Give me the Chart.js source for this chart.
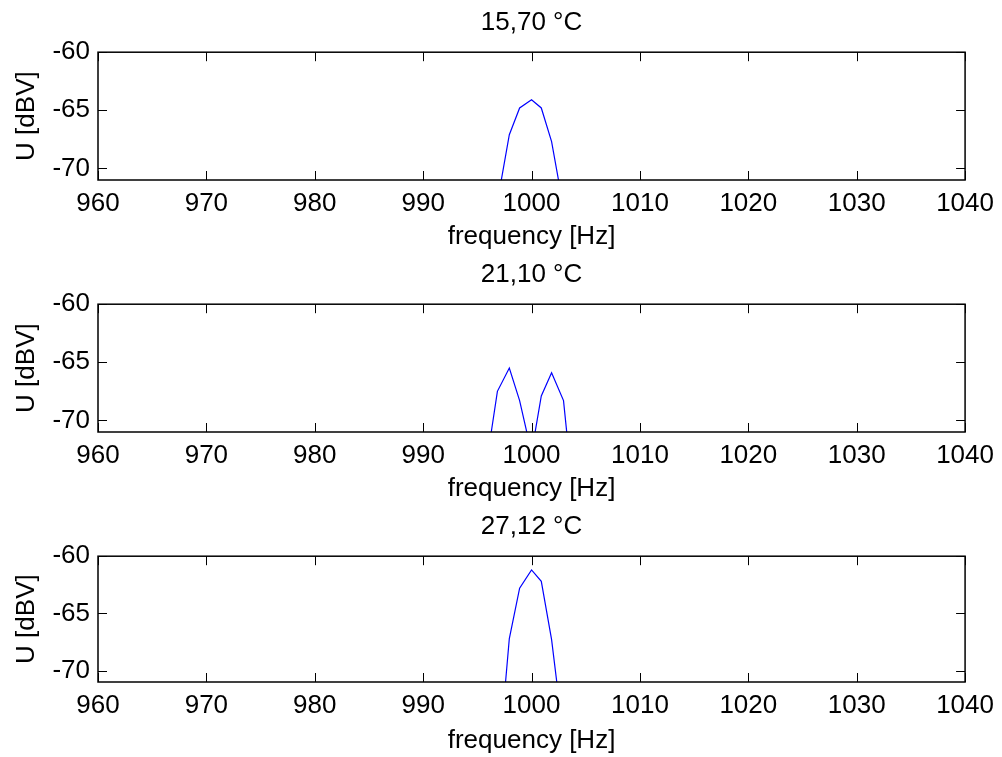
<!DOCTYPE html>
<html lang="en">
<head>
    <meta charset="UTF-8">
    <title>Spectrum around 1 kHz at three temperatures</title>
    <script src="https://cdn.jsdelivr.net/npm/chart.js"></script>
    <style>
        body { margin: 0; background: #fff; }
        .panel { position: absolute; left: 0; width: 1002px; height: 252px; }
    </style>
</head>
<body>
    <div class="panel" style="top:0px"><canvas id="plot1"></canvas></div>
    <div class="panel" style="top:252px"><canvas id="plot2"></canvas></div>
    <div class="panel" style="top:504px"><canvas id="plot3"></canvas></div>

    <script>
        // frequency bins (Hz) shared by all three spectra
        const freqHz = [995.8, 996.85, 997.95, 998.9, 1000.0, 1000.9, 1001.85, 1002.95, 1004.0];

        // level in dBV for each temperature
        const u1570 = [-78.0, -72.9, -67.1, -64.8, -64.1, -64.8, -67.7, -73.4, -79.0];
        const u2110 = [-74.0, -67.5, -65.5, -68.3, -72.8, -67.9, -65.9, -68.3, -77.9];
        const u2712 = [-86.0, -79.2, -67.2, -62.8, -61.2, -62.2, -67.3, -75.8, -84.0];

        const titles = ['15,70 °C', '21,10 °C', '27,12 °C'];
        const xTicks = [960, 970, 980, 990, 1000, 1010, 1020, 1030, 1040];
        const yTicks = [-70, -65, -60];

        const FONT = { family: '"Liberation Sans", Arial, sans-serif', size: 26 };
        const TICK = 9;

        // box round the plot area with inward ticks on all four sides
        const frameTicks = {
            id: 'frameTicks',
            afterDatasetsDraw(chart) {
                const { ctx, chartArea: a, scales: { x, y } } = chart;
                ctx.save();
                ctx.strokeStyle = '#000';
                ctx.lineWidth = 1.5;
                ctx.strokeRect(a.left, a.top, a.right - a.left, a.bottom - a.top);
                ctx.lineWidth = 1;
                ctx.beginPath();
                xTicks.forEach(v => {
                    const px = Math.round(x.getPixelForValue(v)) + 0.5;
                    ctx.moveTo(px, a.bottom); ctx.lineTo(px, a.bottom - TICK);
                    ctx.moveTo(px, a.top); ctx.lineTo(px, a.top + TICK);
                });
                yTicks.forEach(v => {
                    const py = Math.round(y.getPixelForValue(v)) + 0.5;
                    ctx.moveTo(a.left, py); ctx.lineTo(a.left + TICK, py);
                    ctx.moveTo(a.right, py); ctx.lineTo(a.right - TICK, py);
                });
                ctx.stroke();
                ctx.restore();
            }
        };

        function makePlot(id, title, values, xAxisHeight) {
            const points = freqHz.map((f, i) => ({ x: f, y: values[i] }));
            return new Chart(document.getElementById(id), {
                type: 'line',
                data: {
                    datasets: [{
                        data: points,
                        borderColor: '#0000ff',
                        borderWidth: 1.2,
                        pointRadius: 0,
                        tension: 0,
                        fill: false
                    }]
                },
                options: {
                    responsive: true,
                    maintainAspectRatio: false,
                    animation: false,
                    layout: { padding: { left: 0, right: 36, top: 0, bottom: 0 } },
                    plugins: {
                        legend: { display: false },
                        tooltip: { enabled: false },
                        title: {
                            display: true,
                            fullSize: false, // centre over the plot box, not the canvas
                            text: title,
                            color: '#000',
                            font: { ...FONT, weight: 'normal' },
                            padding: { top: 7, bottom: 14 }
                        }
                    },
                    scales: {
                        x: {
                            type: 'linear',
                            min: 960,
                            max: 1040,
                            afterBuildTicks: s => { s.ticks = xTicks.map(v => ({ value: v })); },
                            afterFit: s => { s.height = xAxisHeight; },
                            grid: { display: false, drawTicks: false },
                            border: { display: false },
                            ticks: {
                                color: '#000', font: FONT, padding: 8, maxRotation: 0,
                                callback: v => String(v)
                            },
                            title: {
                                display: true,
                                text: 'frequency [Hz]',
                                color: '#000',
                                font: FONT,
                                padding: { top: 6, bottom: 0 }
                            }
                        },
                        y: {
                            min: -71,
                            max: -60,
                            afterBuildTicks: s => { s.ticks = yTicks.map(v => ({ value: v })); },
                            afterFit: s => { s.width = 98; },
                            grid: { display: false, drawTicks: false },
                            border: { display: false },
                            ticks: { color: '#000', font: FONT, padding: 8, callback: v => String(v) },
                            title: {
                                display: true,
                                text: 'U [dBV]',
                                color: '#000',
                                font: FONT,
                                padding: { top: 11, bottom: 0 }
                            }
                        }
                    }
                },
                plugins: [frameTicks]
            });
        }

        makePlot('plot1', titles[0], u1570, 72);
        makePlot('plot2', titles[1], u2110, 72);
        makePlot('plot3', titles[2], u2712, 74);
    </script>
</body>
</html>
